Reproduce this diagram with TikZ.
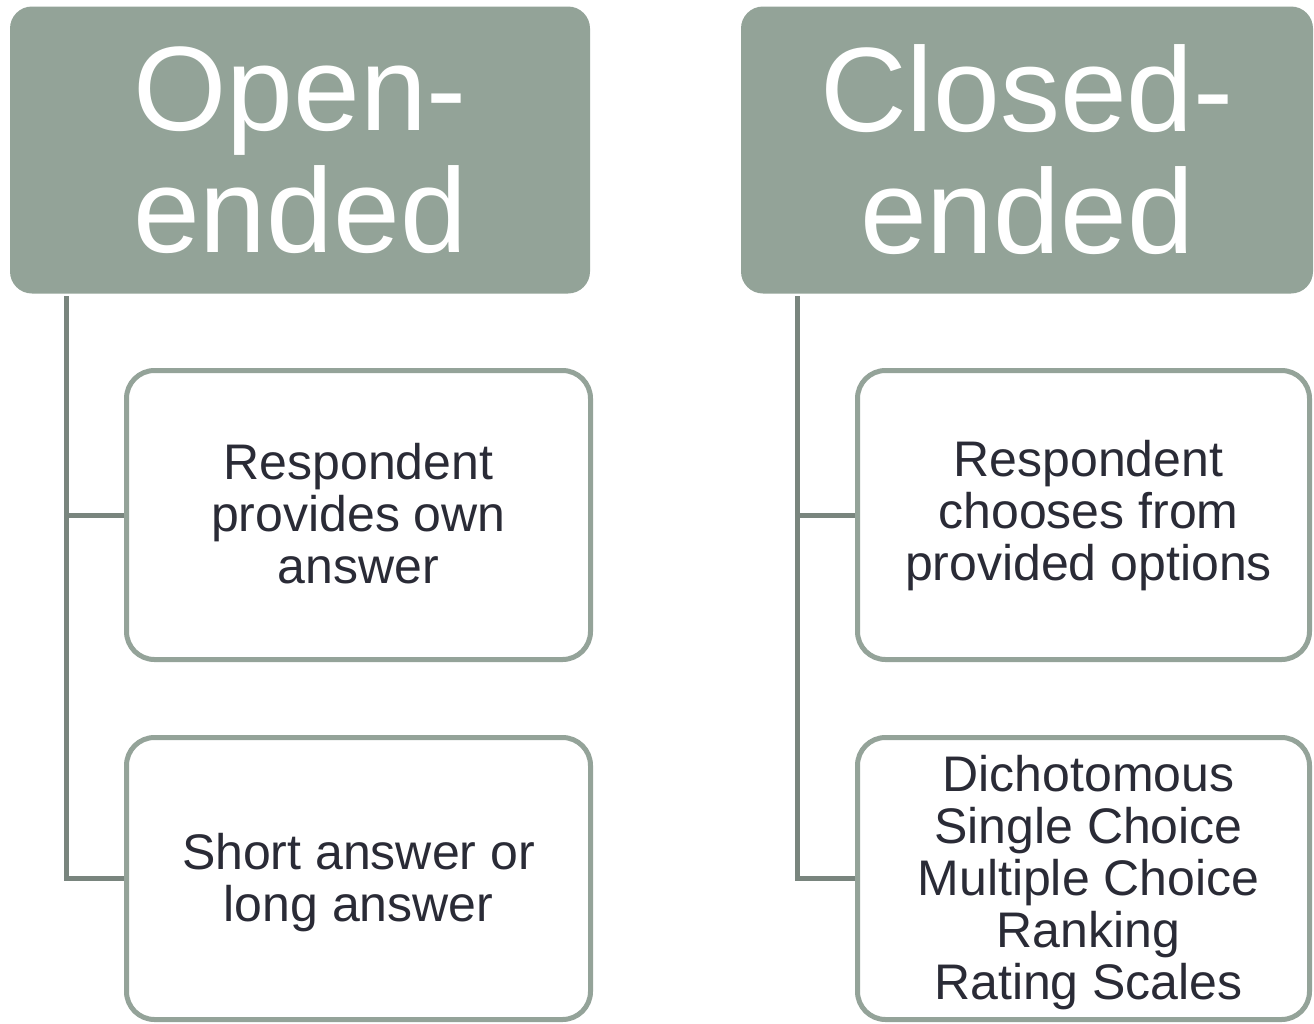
\documentclass[tikz,border=0pt]{standalone}
\usepackage{fontspec}
\setmainfont{Liberation Sans}
\definecolor{hdrfill}{HTML}{93A398}
\definecolor{boxline}{HTML}{94A399}
\definecolor{connline}{HTML}{79857E}
\definecolor{bodytext}{HTML}{2A2B36}
\tikzset{
  header/.style={fill=hdrfill, draw=none, rounded corners=11pt, text=white,
    align=center, inner sep=0pt,
    font=\fontsize{60pt}{61pt}\selectfont},
  childbox/.style={draw=boxline, line width=2.5pt, fill=white, rounded corners=14pt,
    inner sep=0pt},
  childtext/.style={text=bodytext, align=center, inner sep=0pt,
    font=\fontsize{25pt}{26pt}\selectfont},
  conn/.style={draw=connline, line width=2.5pt},
}
\begin{document}
\begin{tikzpicture}[x=0.5pt, y=-0.5pt]
\useasboundingbox (0,0) rectangle (1314,1024);
\fill[white] (0,0) rectangle (1314,1024);

% headers
\node[header, minimum width=290pt, minimum height=143.5pt] (hl) at (300,150) {Open-\\ended};
\node[header, minimum width=286pt, minimum height=143.5pt] (hr) at (1027,150) {Closed-\\ended};

% left children
\node[childbox, minimum width=232pt, minimum height=144.5pt] (l1) at (358.5,515) {};
\node[childtext] (l1t) at ([shift={(0,-1)}]l1.center) {Respondent\\provides own\\answer};
\node[childbox, minimum width=232pt, minimum height=141pt] (l2) at (358.5,878.5) {};
\node[childtext] (l2t) at ([shift={(0,4)}]l2.center) {Short answer or\\long answer};

% right children
\node[childbox, minimum width=226pt, minimum height=144.5pt] (r1) at (1083.5,515) {};
\node[childtext] (r1t) at ([shift={(5,1)}]r1.center) {Respondent\\chooses from\\provided options};
\node[childbox, minimum width=226pt, minimum height=141pt] (r2) at (1083.5,878.5) {};
\node[childtext] (r2t) at ([shift={(5,4)}]r2.center) {Dichotomous\\Single Choice\\Multiple Choice\\Ranking\\Rating Scales};

% connectors
\coordinate (lt) at (66,296);
\coordinate (rt) at (797,296);
\draw[conn] (lt) |- (l2.west);
\draw[conn] (lt |- l1.west) -- (l1.west);
\draw[conn] (rt) |- (r2.west);
\draw[conn] (rt |- r1.west) -- (r1.west);
\end{tikzpicture}
\end{document}
